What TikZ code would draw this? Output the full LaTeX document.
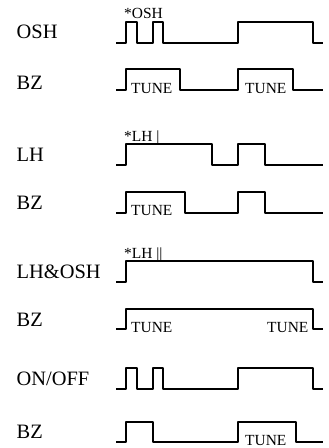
\documentclass[tikz,border=0pt]{standalone}
\usepackage{fontspec}
\setmainfont{Liberation Serif}
\usetikzlibrary{positioning}

\begin{document}
\begin{tikzpicture}[
                x=1bp, y=-1bp,
                wave/.style={line width=1.9bp, line join=round},
                SigLabel/.style={anchor=base west, inner sep=0pt, font=\fontsize{20.5}{23}\selectfont},
                Note/.style={anchor=base west, inner sep=0pt, font=\fontsize{15.5}{17}\selectfont},
            ]
            \useasboundingbox (0,0) rectangle (328,448);

            % signal names
            \node [SigLabel] (osh) at (16.5,38.5) {OSH};
            \node [SigLabel] (bz1) at (16.5,89.5) {BZ};
            \node [SigLabel] (lh) at (16.5,161.5) {LH};
            \node [SigLabel] (bz2) at (16.5,209.5) {BZ};
            \node [SigLabel] (lhosh) at (16.5,278.5) {LH\&OSH};
            \node [SigLabel] (bz3) at (16.5,326.5) {BZ};
            \node [SigLabel] (onoff) at (16.5,385.5) {ON/OFF};
            \node [SigLabel] (bz4) at (16.5,438.5) {BZ};

            % OSH / BZ
            \draw[wave] (116,42.7) -| (126,22) -| (136.7,42.7) -| (152.7,22) -| (163.3,42.7)
                -| (237.7,22) -| (313.3,42.7) -- (323.3,42.7);
            \node [Note] (oshnote) at (124,18.5) {*OSH};
            \draw[wave] (116,90) -| (126,69.3) -| (180,90) -| (237.7,69.3) -| (292.7,90) -- (323.3,90);
            \node [Note] (tune1a) at (131,93.5) {TUNE};
            \node [Note] (tune1b) at (245,93.5) {TUNE};

            % LH / BZ
            \draw[wave] (116,165.3) -| (126,144.3) -| (212,165.3) -| (237.7,144.3) -| (265.3,165.3) -- (323.3,165.3);
            \node [Note] (lhnote) at (124,141.5) {*LH |};
            \draw[wave] (116,212.7) -| (126,192) -| (185,212.7) -| (237.7,192) -| (265.3,212.7) -- (323.3,212.7);
            \node [Note] (tune2) at (131,215.5) {TUNE};

            % LH&OSH / BZ
            \draw[wave] (116,282.3) -| (126,261.3) -| (313.3,282.3) -- (323.3,282.3);
            \node [Note] (lhoshnote) at (124,258.5) {*LH ||};
            \draw[wave] (116,329) -| (126,309) -| (313.3,329) -- (323.3,329);
            \node [Note] (tune3a) at (131,332) {TUNE};
            \node [Note] (tune3b) at (267,332) {TUNE};

            % ON/OFF / BZ
            \draw[wave] (116,388.7) -| (126,368) -| (136.7,388.7) -| (152.7,368) -| (163.3,388.7)
                -| (237.7,368) -| (313.3,388.7) -- (323.3,388.7);
            \draw[wave] (116,442) -| (126,421.7) -| (152.7,442) -| (237.7,421.7) -| (296,442) -- (323.3,442);
            \node [Note] (tune4) at (245,445) {TUNE};
        \end{tikzpicture}
\end{document}
